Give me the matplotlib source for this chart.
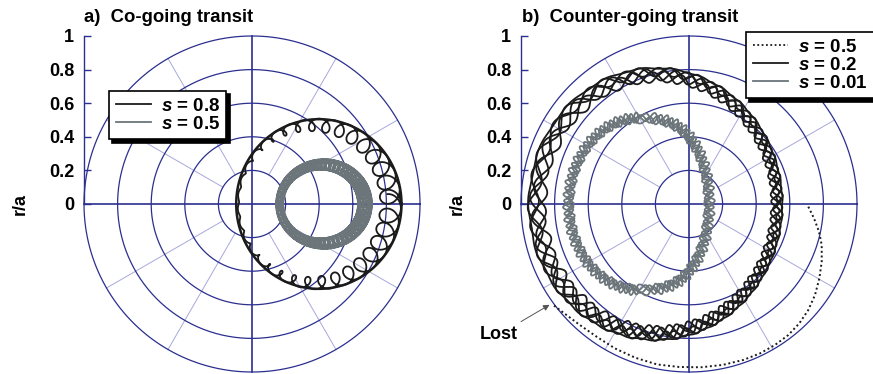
import numpy as np
import matplotlib
matplotlib.use("Agg")
import matplotlib.pyplot as plt
from matplotlib.lines import Line2D

plt.rcParams['font.family'] = ['Liberation Sans', 'DejaVu Sans']
plt.rcParams['mathtext.fontset'] = 'custom'
plt.rcParams['mathtext.rm'] = 'Liberation Sans:bold'
plt.rcParams['mathtext.it'] = 'Liberation Sans:bold:italic'
plt.rcParams['mathtext.bf'] = 'Liberation Sans:bold'

# ---------------- data ----------------
PANEL_TITLES = ["a)  Co-going transit", "b)  Counter-going transit"]
RADIAL_TICKS = [0, 0.2, 0.4, 0.6, 0.8, 1.0]
RADIAL_TICK_LABELS = ["0", "0.2", "0.4", "0.6", "0.8", "1"]
SPOKE_ANGLES_DEG = [30, 60, 120, 150, 210, 240, 300, 330]

# (a) co-going orbits: guiding-centre ellipse + gyration
CO_LABELS = [r"$\mathit{s}$ = 0.8", r"$\mathit{s}$ = 0.5"]
CO_CENTER_X = [0.372, 0.4185]
CO_RADIUS_X = [0.453, 0.2535]
CO_RADIUS_Y = [0.470, 0.235]
CO_RHO_MIN = [0.004, 0.022]
CO_RHO_MAX = [0.062, 0.042]
CO_RHO_EXP = [0.8, 1.0]
CO_GYRATIONS = [34.3, 58.6]
CO_TURNS = [1.0, 2.0]
CO_LINEWIDTH = [1.3, 1.15]
CO_ENVELOPE_X = 0.398
CO_ENVELOPE_RX = 0.492
CO_ENVELOPE_RY = 0.505

# (b) counter-going orbits: several passes inside an outer envelope
CTR_LABELS = [r"$\mathit{s}$ = 0.5", r"$\mathit{s}$ = 0.2", r"$\mathit{s}$ = 0.01"]
S02_CENTER_X = -0.200
S02_OUTER_RX = 0.760
S02_OUTER_RY = 0.815
S02_WIGGLES = 30
S02_CHIRP = 0.5
S02_CHIRP_ANGLE_DEG = -20
S02_AMP_TILT = 0.3
S02_PASS_AMP = [0.028, 0.034, 0.030, 0.024, 0.036, 0.004]
S02_PASS_PHASE = [0.0, 1.3, 2.6, 3.9, 5.0, 0.7]
S02_PASS_DR = [0.000, 0.012, 0.030, 0.004, 0.020, 0.002]

S001_CENTER_X = -0.298
S001_OUTER_RX = 0.452
S001_OUTER_RY = 0.545
S001_RIGHT_EXP = 0.7
S001_WIGGLES = 44
S001_PASS_AMP = [0.026, 0.022, 0.028, 0.020]
S001_PASS_PHASE = [0.0, 1.6, 3.1, 4.7]
S001_PASS_DR = [0.000, 0.016, 0.006, 0.026]

# (b) s = 0.5 lost orbit (dotted)
LOST_X = [0.710, 0.744, 0.774, 0.790, 0.790, 0.776, 0.750, 0.710, 0.657, 0.591,
          0.512, 0.423, 0.324, 0.200, 0.070, -0.060, -0.190, -0.320, -0.440,
          -0.550, -0.650, -0.730, -0.810]
LOST_Y = [-0.016, -0.085, -0.165, -0.244, -0.343, -0.442, -0.542, -0.631, -0.710,
          -0.780, -0.839, -0.889, -0.928, -0.958, -0.972, -0.970, -0.955, -0.915,
          -0.860, -0.790, -0.720, -0.660, -0.600]

# ---------------- styles ----------------
NAVY = '#2b2f8f'
LIGHT = '#a8a8dc'
BLACK = '#1b1b1b'
GREY = '#6b757a'
FS = 13

fig = plt.figure(figsize=(8.73, 3.74), dpi=100)
W, H = 873.0, 374.0
axA = fig.add_axes([84 / W, 2 / H, 336 / W, 336 / H])
axB = fig.add_axes([521 / W, 2 / H, 336 / W, 336 / H])


def style_axes(ax):
    ax.set_xlim(-1, 1)
    ax.set_ylim(-1, 1)
    for sp in ['top', 'right', 'bottom']:
        ax.spines[sp].set_visible(False)
    ax.spines['left'].set_bounds(0, 1)
    ax.spines['left'].set_color(NAVY)
    ax.spines['left'].set_linewidth(1.0)
    ax.set_xticks([])
    ax.set_yticks(RADIAL_TICKS)
    ax.set_yticklabels(RADIAL_TICK_LABELS, fontsize=FS, fontweight='bold')
    ax.tick_params(axis='y', direction='in', length=5, width=1.0, color=NAVY,
                   pad=7, labelcolor='black')
    ax.patch.set_visible(False)
    t = np.linspace(0, 2 * np.pi, 400)
    for r in RADIAL_TICKS[1:]:
        ax.plot(r * np.cos(t), r * np.sin(t), color=NAVY, lw=0.9, zorder=1,
                clip_on=False)
    for a in SPOKE_ANGLES_DEG:
        ar = np.deg2rad(a)
        ax.plot([0.2 * np.cos(ar), np.cos(ar)], [0.2 * np.sin(ar), np.sin(ar)],
                color=LIGHT, lw=0.7, zorder=0.9)
    ax.plot([-1, 1], [0, 0], color=NAVY, lw=1.2, zorder=1.1, clip_on=False)
    ax.plot([0, 0], [-1, 1], color=NAVY, lw=1.2, zorder=1.1, clip_on=False)


style_axes(axA)
style_axes(axB)

# ---------------- panel a ----------------
colorsA = [BLACK, GREY]
for i in range(2):
    th = np.linspace(0, 2 * np.pi * CO_TURNS[i], int(6000 * CO_TURNS[i]))
    w = ((1 + np.cos(th)) / 2) ** CO_RHO_EXP[i]
    rho = CO_RHO_MIN[i] + (CO_RHO_MAX[i] - CO_RHO_MIN[i]) * w
    psi = CO_GYRATIONS[i] * th
    x = CO_CENTER_X[i] + CO_RADIUS_X[i] * np.cos(th) + rho * np.cos(psi)
    y = CO_RADIUS_Y[i] * np.sin(th) + rho * np.sin(psi)
    axA.plot(x, y, color=colorsA[i], lw=CO_LINEWIDTH[i], zorder=3)
t = np.linspace(0, 2 * np.pi, 400)
axA.plot(CO_ENVELOPE_X + CO_ENVELOPE_RX * np.cos(t), CO_ENVELOPE_RY * np.sin(t),
         color=BLACK, lw=1.8, zorder=3)

handlesA = [Line2D([], [], color=BLACK, lw=1.3), Line2D([], [], color=GREY, lw=1.3)]
legA = axA.legend(handlesA, CO_LABELS, loc='upper left',
                  bbox_to_anchor=(109 / W, 1 - 91 / H), bbox_transform=fig.transFigure,
                  borderaxespad=0, fancybox=False, framealpha=1, edgecolor='black',
                  prop=dict(weight='bold', size=FS + 0.5), handlelength=1.9,
                  handletextpad=0.5, labelspacing=0.05, borderpad=0.35,
                  shadow={'ox': 2.5, 'oy': -2.5, 'facecolor': 'black',
                          'edgecolor': 'black', 'alpha': 1})
legA.get_frame().set_linewidth(1.2)
legA.set_zorder(10)

# ---------------- panel b ----------------
th = np.linspace(0, 2 * np.pi, 5000)
phase_mod = th + S02_CHIRP * np.sin(th - np.deg2rad(S02_CHIRP_ANGLE_DEG))
amp_scale = 1 - S02_AMP_TILT * np.cos(th)
for amp, ph, dr in zip(S02_PASS_AMP, S02_PASS_PHASE, S02_PASS_DR):
    delta = dr + amp * amp_scale * (1 - np.sin(S02_WIGGLES * phase_mod + ph))
    x = S02_CENTER_X + (S02_OUTER_RX - delta) * np.cos(th)
    y = (S02_OUTER_RY - delta) * np.sin(th)
    axB.plot(x, y, color=BLACK, lw=1.3, zorder=3)

c = np.cos(th)
c_shape = np.where(c > 0, np.abs(c) ** S001_RIGHT_EXP, c)
for amp, ph, dr in zip(S001_PASS_AMP, S001_PASS_PHASE, S001_PASS_DR):
    delta = dr + amp * (1 - np.sin(S001_WIGGLES * th + ph))
    x = S001_CENTER_X + (S001_OUTER_RX - delta) * c_shape
    y = (S001_OUTER_RY - delta) * np.sin(th)
    axB.plot(x, y, color=GREY, lw=1.3, zorder=3)

axB.plot(LOST_X, LOST_Y, color=BLACK, lw=1.4, ls=(0, (1, 1.4)), zorder=3)

axB.annotate("", xy=(-0.83, -0.60), xytext=(-1.0, -0.70),
             arrowprops=dict(arrowstyle='-|>', color='#555555', lw=0.7,
                             mutation_scale=9, shrinkA=0, shrinkB=0),
             annotation_clip=False)
axB.text(-1.244, -0.774, "Lost", fontsize=FS, fontweight='bold', ha='left',
         va='center', clip_on=False)

handlesB = [Line2D([], [], color=BLACK, lw=1.3, ls=(0, (1, 1.4))),
            Line2D([], [], color=BLACK, lw=1.3),
            Line2D([], [], color=GREY, lw=1.3)]
legB = axB.legend(handlesB, CTR_LABELS, loc='upper left',
                  bbox_to_anchor=(746 / W, 1 - 32 / H), bbox_transform=fig.transFigure,
                  borderaxespad=0, fancybox=False, framealpha=1, edgecolor='black',
                  prop=dict(weight='bold', size=FS + 0.5), handlelength=1.9,
                  handletextpad=0.5, labelspacing=0.05, borderpad=0.35,
                  shadow={'ox': 2.5, 'oy': -2.5, 'facecolor': 'black',
                          'edgecolor': 'black', 'alpha': 1})
legB.get_frame().set_linewidth(1.2)
legB.set_zorder(10)

# ---------------- titles and labels ----------------
fig.text(84 / W, 1 - 17 / H, PANEL_TITLES[0], fontsize=FS + 0.3, fontweight='bold',
         ha='left', va='center')
fig.text(522 / W, 1 - 17 / H, PANEL_TITLES[1], fontsize=FS + 0.3, fontweight='bold',
         ha='left', va='center')
fig.text(20 / W, 1 - 204 / H, "r/a", fontsize=FS, fontweight='bold', rotation=90,
         ha='center', va='center')
fig.text(457 / W, 1 - 204 / H, "r/a", fontsize=FS, fontweight='bold', rotation=90,
         ha='center', va='center')

fig.savefig("out.png", dpi=100)
